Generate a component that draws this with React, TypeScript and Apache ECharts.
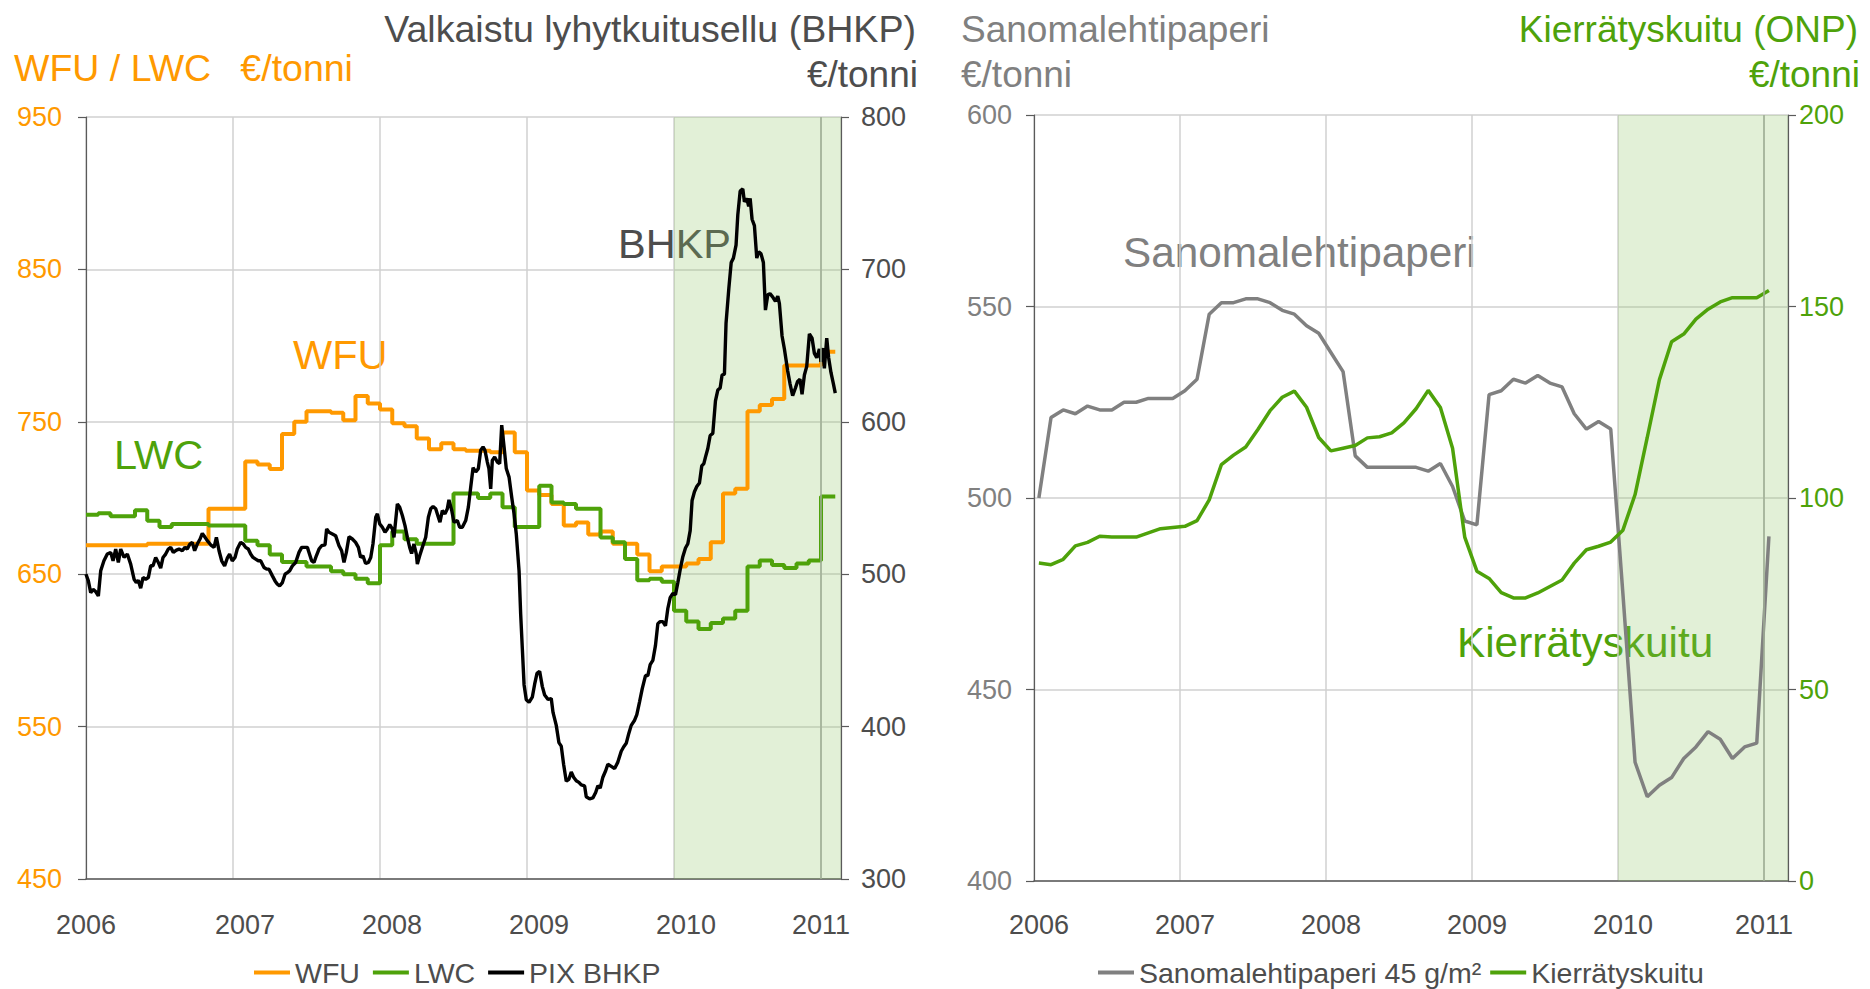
import React, { useEffect, useRef } from 'react';
import * as echarts from 'echarts';

const FONT = '"Liberation Sans", Arial, sans-serif';
const ORANGE = '#FF9900';
const GREEN = '#4EA20A';
const DARK = '#4D4D4D';
const GRAY = '#808080';
const AXIS = '#5A5A5A';
const GRID = '#D0D0D0';

const START_YEAR = 2006;
const YEAR_TICKS = [2006, 2007, 2008, 2009, 2010, 2011];
const SHADE_START = 2010;
const SHADE_LINE = 2011;
const LEFT_X_MAX = 2011.136;
const RIGHT_X_MAX = 2011.164;

// WFU €/t, monthly Jan 2006 .. Feb 2011 (left axis)
const WFU = [
  669, 669, 669, 669, 669, 670, 670, 670, 670, 670, 693, 693,
  693, 724, 722, 719, 742, 750, 757, 757, 756, 751, 767, 762,
  758, 749, 747, 739, 732, 736, 732, 731, 731, 730, 743, 730,
  705, 702, 696, 682, 684, 676, 678, 670, 670, 663, 652, 655,
  655, 657, 660, 671, 703, 706, 757, 761, 765, 787, 787, 787,
  796, 796,
];

// LWC €/t, monthly Jan 2006 .. Feb 2011 (left axis)
const LWC = [
  689, 690, 688, 688, 692, 685, 681, 683, 683, 683, 682, 682,
  682, 672, 669, 663, 658, 658, 655, 655, 652, 650, 647, 644,
  669, 678, 673, 670, 670, 670, 703, 703, 700, 703, 694, 681,
  681, 708, 697, 696, 693, 693, 674, 671, 660, 646, 647, 645,
  626, 619, 614, 618, 621, 626, 655, 659, 656, 654, 657, 659,
  701, 701,
];

// PIX BHKP €/t, weekly readings [date (decimal year), value] (right axis)
const BHKP = [
  [2006.000, 500], [2006.016, 495.6], [2006.032, 487.9], [2006.048, 490], [2006.066, 488.6], [2006.084, 485.7],
  [2006.100, 502.2], [2006.122, 508.8], [2006.145, 513.2], [2006.168, 514.3], [2006.184, 508.8], [2006.202, 516.5],
  [2006.220, 507.7], [2006.236, 516.5], [2006.259, 511], [2006.281, 513.2], [2006.304, 506.6], [2006.327, 496.7],
  [2006.342, 494.5], [2006.356, 496], [2006.372, 490.8], [2006.388, 497.8], [2006.406, 496.7], [2006.424, 497.8],
  [2006.440, 505.5], [2006.456, 505.5], [2006.474, 511], [2006.492, 507.7], [2006.508, 504], [2006.524, 511],
  [2006.542, 513.2], [2006.560, 516.5], [2006.576, 517.6], [2006.594, 514.3], [2006.615, 515.8], [2006.633, 516.5],
  [2006.655, 515.4], [2006.673, 517.6], [2006.689, 516.5], [2006.707, 519.8], [2006.723, 520.9], [2006.739, 515.4],
  [2006.757, 519.8], [2006.776, 523.1], [2006.791, 526.8], [2006.810, 524.2], [2006.825, 522], [2006.848, 519.3],
  [2006.871, 517.6], [2006.887, 524.2], [2006.905, 515.4], [2006.923, 508.8], [2006.943, 505.5], [2006.961, 510.5],
  [2006.977, 513.2], [2006.995, 508.8], [2007.014, 511], [2007.029, 516.5], [2007.052, 520.9], [2007.070, 519.8],
  [2007.086, 517.6], [2007.104, 516.5], [2007.120, 513.2], [2007.136, 511], [2007.154, 509.9], [2007.172, 508.8],
  [2007.188, 508.8], [2007.211, 504.4], [2007.229, 503.3], [2007.245, 503.3], [2007.268, 498.9], [2007.286, 495.6],
  [2007.302, 493.4], [2007.317, 492.3], [2007.336, 494.5], [2007.354, 500], [2007.370, 501.1], [2007.385, 502.2],
  [2007.404, 505.5], [2007.426, 507.7], [2007.449, 514.3], [2007.467, 517.6], [2007.490, 517.6], [2007.506, 517.6],
  [2007.517, 514.3], [2007.535, 508.8], [2007.551, 507.7], [2007.567, 512.1], [2007.585, 516.5], [2007.603, 518.7],
  [2007.626, 519.3], [2007.637, 529.7], [2007.653, 527.5], [2007.676, 526.4], [2007.698, 525.3], [2007.721, 518.7],
  [2007.739, 515.4], [2007.755, 507.7], [2007.771, 514.3], [2007.789, 524.6], [2007.812, 523.1], [2007.834, 520.9],
  [2007.853, 517.6], [2007.868, 511], [2007.884, 512.1], [2007.902, 507], [2007.921, 507.7], [2007.937, 511],
  [2007.952, 519.8], [2007.971, 537.4], [2007.982, 539.6], [2007.998, 533], [2008.016, 530.8], [2008.034, 527.5],
  [2008.050, 529.7], [2008.066, 532.5], [2008.084, 529.7], [2008.095, 524.2], [2008.118, 546.1], [2008.134, 543.9],
  [2008.152, 538.5], [2008.170, 531.9], [2008.186, 524.2], [2008.202, 517.6], [2008.215, 513.6], [2008.231, 519.8],
  [2008.247, 513.2], [2008.254, 506.6], [2008.270, 512.1], [2008.288, 517.6], [2008.311, 524.2], [2008.329, 537.4],
  [2008.345, 542.9], [2008.361, 544.4], [2008.379, 542.9], [2008.397, 537.4], [2008.408, 534.1], [2008.424, 541.8],
  [2008.442, 539.6], [2008.458, 542.9], [2008.469, 548.8], [2008.488, 541.8], [2008.503, 534.1], [2008.526, 535.2],
  [2008.542, 530.8], [2008.560, 530.8], [2008.583, 535.2], [2008.601, 544], [2008.617, 557.1], [2008.633, 569.9],
  [2008.651, 567.1], [2008.669, 569.3], [2008.685, 581.3], [2008.701, 583.5], [2008.714, 581.3], [2008.730, 573.6],
  [2008.741, 569.3], [2008.753, 556], [2008.764, 574.7], [2008.780, 576.9], [2008.798, 573.6], [2008.814, 572.5],
  [2008.828, 597.8], [2008.844, 583.5], [2008.859, 569.3], [2008.878, 563.7], [2008.896, 550.5], [2008.912, 539.6],
  [2008.927, 526.4], [2008.946, 502.2], [2008.957, 473.6], [2008.968, 451.6], [2008.980, 427.5], [2008.995, 417.6],
  [2009.014, 416], [2009.036, 419.3], [2009.052, 427.8], [2009.068, 434.9], [2009.086, 436.3], [2009.104, 426.4],
  [2009.120, 420.7], [2009.143, 417.9], [2009.165, 418.4], [2009.177, 409.3], [2009.199, 400.8], [2009.217, 389.5],
  [2009.233, 387.2], [2009.249, 375.3], [2009.267, 364.2], [2009.285, 365.4], [2009.301, 370.2], [2009.317, 366.8],
  [2009.335, 364.5], [2009.353, 363.4], [2009.369, 361.7], [2009.392, 361.1], [2009.403, 354], [2009.426, 352.6],
  [2009.448, 353.2], [2009.467, 356.8], [2009.482, 361.1], [2009.498, 359.7], [2009.516, 366.8], [2009.535, 371],
  [2009.550, 375.3], [2009.573, 373.9], [2009.596, 372.5], [2009.618, 376.7], [2009.641, 383.8], [2009.657, 386.6],
  [2009.675, 389], [2009.693, 395.7], [2009.709, 400.8], [2009.732, 404.2], [2009.747, 407.9], [2009.766, 416.4],
  [2009.784, 424.9], [2009.806, 433.5], [2009.822, 433.5], [2009.838, 440.6], [2009.856, 443.4], [2009.874, 453.3],
  [2009.890, 467.5], [2009.906, 468.9], [2009.924, 468.9], [2009.942, 466.1], [2009.958, 477.5], [2009.974, 484.6],
  [2009.992, 487.4], [2010.010, 486.5], [2010.026, 494.5], [2010.042, 503], [2010.060, 511.5], [2010.078, 517.2],
  [2010.094, 520], [2010.110, 528.6], [2010.123, 548.4], [2010.139, 554.1], [2010.155, 557.5], [2010.173, 559.8],
  [2010.189, 571.1], [2010.203, 572.6], [2010.214, 576.8], [2010.230, 582.5], [2010.246, 591], [2010.264, 592.4],
  [2010.282, 613.7], [2010.298, 620.8], [2010.314, 622.2], [2010.327, 630.7], [2010.343, 631.3], [2010.354, 664.8],
  [2010.373, 687.5], [2010.389, 704.5], [2010.404, 707.4], [2010.422, 715.9], [2010.434, 735.8], [2010.450, 751.4],
  [2010.468, 752.8], [2010.479, 744.3], [2010.495, 746.6], [2010.508, 741.4], [2010.518, 746.6], [2010.531, 732.9],
  [2010.547, 728.7], [2010.563, 707.4], [2010.576, 711.6], [2010.592, 710.2], [2010.608, 704.5], [2010.622, 673.3],
  [2010.638, 683.3], [2010.653, 684.1], [2010.672, 681.8], [2010.690, 679], [2010.706, 682.4], [2010.717, 677.6],
  [2010.735, 656.3], [2010.751, 647.8], [2010.773, 633.6], [2010.789, 625.1], [2010.807, 617.1], [2010.826, 622.2],
  [2010.841, 626.5], [2010.857, 628], [2010.871, 618], [2010.887, 630.7], [2010.903, 636.4], [2010.921, 657.7],
  [2010.939, 654.9], [2010.955, 644.9], [2010.971, 642.1], [2010.989, 647.8], [2011.000, 639.3], [2011.011, 648.4],
  [2011.023, 635], [2011.039, 654.9], [2011.052, 642.1], [2011.068, 632.2], [2011.084, 625.1], [2011.097, 618.8],
];

// Sanomalehtipaperi 45 g/m² €/t, monthly Jan 2006 .. Jan 2011
const NEWSPRINT = [
  500, 521, 523, 522, 524, 523, 523, 525, 525, 526, 526, 526,
  528, 531, 548, 551, 551, 552, 552, 551, 549, 548, 545, 543,
  538, 533, 511, 508, 508, 508, 508, 508, 507, 509, 503, 494,
  493, 527, 528, 531, 530, 532, 530, 529, 522, 518, 520, 518,
  475, 431, 422, 425, 427, 432, 435, 439, 437, 432, 435, 436,
  490,
];

// Kierrätyskuitu (ONP) €/t, monthly Jan 2006 .. Jan 2011
const ONP = [
  83, 82.6, 84, 87.5, 88.4, 90, 89.8, 89.8, 89.8, 90.9, 92, 92.3,
  92.6, 94.1, 99.5, 108.7, 111.2, 113.3, 117.9, 122.8, 126.3, 127.9, 123.7, 115.8,
  112.3, 113, 113.7, 115.7, 116, 117, 119.6, 123.3, 128.1, 123.6, 113, 89.8,
  80.9, 79, 75.3, 73.9, 73.9, 75.2, 76.9, 78.6, 83, 86.5, 87.4, 88.5,
  91.6, 100.9, 115.8, 130.9, 140.8, 142.8, 146.7, 149.3, 151.2, 152.3, 152.3, 152.3,
  154.2,
];

const MID_MONTH = 0.4;

function stepSeriesData(values: number[], endDate: number) {
  const pts: [number, number][] = values.map((v, i) => [START_YEAR + i / 12, v]);
  pts.push([endDate, values[values.length - 1]]);
  return pts;
}

function monthlyData(values: number[]) {
  return values.map((v, i) => [START_YEAR + (i + MID_MONTH) / 12, v]);
}

function yearFormatter(shiftedStyle: string) {
  return (v: number) => {
    if (!YEAR_TICKS.includes(v)) return '';
    if (v === 2011 || (shiftedStyle === 'm' && v === 2006)) return `{e|${v}}`;
    return `{${shiftedStyle}|${v}}`;
  };
}

export default function App() {
  const ref = useRef<HTMLDivElement>(null);

  useEffect(() => {
    if (!ref.current) return;
    const chart = echarts.init(ref.current, null, { renderer: 'svg' });
    const bhkpEnd = BHKP[BHKP.length - 1][0];

    const labelBase = { fontFamily: FONT, fontSize: 27, color: DARK };

    const xCommon = (gridIndex: number, max: number, style: string, pad: number, margin: number) => ({
      type: 'value',
      gridIndex,
      min: START_YEAR,
      max,
      interval: 1,
      axisLine: { show: true, onZero: false, lineStyle: { color: AXIS, width: 1.5 } },
      axisTick: { show: false },
      splitLine: { show: true, lineStyle: { color: GRID, width: 1.5 } },
      axisLabel: {
        margin,
        formatter: yearFormatter(style),
        rich: {
          e: { ...labelBase },
          [style]: { ...labelBase, padding: [0, 0, 0, pad] },
        },
      },
    });

    const yCommon = (
      gridIndex: number,
      position: string,
      min: number,
      max: number,
      interval: number,
      color: string,
      margin: number,
      split: boolean
    ) => ({
      type: 'value',
      gridIndex,
      position,
      min,
      max,
      interval,
      axisLine: { show: true, lineStyle: { color: AXIS, width: 1.2 } },
      axisTick: { show: true, inside: false, length: 8, lineStyle: { color: AXIS, width: 1.2 } },
      axisLabel: { color, fontFamily: FONT, fontSize: 27, margin },
      splitLine: { show: split, lineStyle: { color: GRID, width: 1.5 } },
    });

    const shade = (xMax: number) => ({
      silent: true,
      itemStyle: { color: 'rgba(140, 195, 95, 0.25)' },
      data: [[{ xAxis: SHADE_START }, { xAxis: xMax }]],
    });

    const shadeLine = {
      silent: true,
      symbol: ['none', 'none'],
      label: { show: false },
      lineStyle: { color: '#9FAE96', width: 1.5, type: 'solid' },
      data: [{ xAxis: SHADE_LINE }],
    };

    const txt = (
      text: string,
      x: number,
      y: number,
      size: number,
      fill: string,
      align: string
    ) => ({
      type: 'text',
      x,
      y,
      silent: true,
      style: {
        text,
        fontSize: size,
        fontFamily: FONT,
        fill,
        align,
        textAlign: align,
        verticalAlign: 'middle',
        textVerticalAlign: 'middle',
      },
    });

    const legendText = { fontFamily: FONT, fontSize: 28.5, color: DARK };

    chart.setOption({
      animation: false,
      backgroundColor: '#ffffff',
      textStyle: { fontFamily: FONT },
      grid: [
        { left: 86, top: 117, width: 755, height: 762 },
        { left: 1034, top: 115, width: 754, height: 766 },
      ],
      xAxis: [
        xCommon(0, LEFT_X_MAX, 'm', 24, 32),
        xCommon(1, RIGHT_X_MAX, 'r', 10, 30),
      ],
      yAxis: [
        yCommon(0, 'left', 450, 950, 100, ORANGE, 24, true),
        yCommon(0, 'right', 300, 800, 100, DARK, 20, false),
        yCommon(1, 'left', 400, 600, 50, GRAY, 22, true),
        yCommon(1, 'right', 0, 200, 50, GREEN, 11, false),
      ],
      legend: [
        {
          data: ['WFU', 'LWC', 'PIX BHKP'],
          left: 249,
          top: 953,
          icon: 'rect',
          itemWidth: 36,
          itemHeight: 4,
          itemGap: 13,
          textStyle: legendText,
        },
        {
          data: ['Sanomalehtipaperi 45 g/m²', 'Kierrätyskuitu'],
          left: 1093,
          top: 953,
          icon: 'rect',
          itemWidth: 36,
          itemHeight: 4,
          itemGap: 9,
          textStyle: legendText,
        },
      ],
      series: [
        {
          name: 'WFU',
          type: 'line',
          xAxisIndex: 0,
          yAxisIndex: 0,
          step: 'end',
          data: stepSeriesData(WFU, bhkpEnd),
          showSymbol: false,
          symbol: 'none',
          color: ORANGE,
          itemStyle: { color: ORANGE },
          lineStyle: { color: ORANGE, width: 4 },
          markArea: shade(LEFT_X_MAX),
          markLine: shadeLine,
          z: 2,
        },
        {
          name: 'LWC',
          type: 'line',
          xAxisIndex: 0,
          yAxisIndex: 0,
          step: 'end',
          data: stepSeriesData(LWC, bhkpEnd),
          showSymbol: false,
          symbol: 'none',
          color: GREEN,
          itemStyle: { color: GREEN },
          lineStyle: { color: GREEN, width: 4 },
          z: 3,
        },
        {
          name: 'PIX BHKP',
          type: 'line',
          xAxisIndex: 0,
          yAxisIndex: 1,
          data: BHKP,
          showSymbol: false,
          symbol: 'none',
          color: '#000000',
          itemStyle: { color: '#000000' },
          lineStyle: { color: '#000000', width: 3.4 },
          z: 4,
        },
        {
          name: 'Sanomalehtipaperi 45 g/m²',
          type: 'line',
          xAxisIndex: 1,
          yAxisIndex: 2,
          data: monthlyData(NEWSPRINT),
          showSymbol: false,
          symbol: 'none',
          color: GRAY,
          itemStyle: { color: GRAY },
          lineStyle: { color: GRAY, width: 3.5 },
          markArea: shade(RIGHT_X_MAX),
          markLine: shadeLine,
          z: 3,
        },
        {
          name: 'Kierrätyskuitu',
          type: 'line',
          xAxisIndex: 1,
          yAxisIndex: 3,
          data: monthlyData(ONP),
          showSymbol: false,
          symbol: 'none',
          color: GREEN,
          itemStyle: { color: GREEN },
          lineStyle: { color: GREEN, width: 3.5 },
          z: 4,
        },
      ],
      graphic: [
        txt('Valkaistu lyhytkuitusellu (BHKP)', 916, 29, 37.6, DARK, 'right'),
        txt('€/tonni', 918, 74, 37, DARK, 'right'),
        txt('WFU / LWC\u00A0\u2002€/tonni', 14, 68, 37.5, ORANGE, 'left'),
        txt('Sanomalehtipaperi', 961, 29, 37, GRAY, 'left'),
        txt('€/tonni', 961, 74, 37, GRAY, 'left'),
        txt('Kierrätyskuitu (ONP)', 1858, 29, 37, GREEN, 'right'),
        txt('€/tonni', 1860, 74, 37, GREEN, 'right'),
        txt('BHKP', 618, 243, 41.5, DARK, 'left'),
        txt('WFU', 293, 354, 41.5, ORANGE, 'left'),
        txt('LWC', 114, 454, 41.5, GREEN, 'left'),
        txt('Sanomalehtipaperi', 1123, 252, 42.3, GRAY, 'left'),
        txt('Kierrätyskuitu', 1457, 642, 42.3, GREEN, 'left'),
      ],
    });

    return () => {
      chart.dispose();
    };
  }, []);

  return (
    <div
      ref={ref}
      style={{
        position: 'fixed',
        left: 0,
        top: 0,
        width: 1870,
        height: 989,
        background: '#ffffff',
      }}
    />
  );
}
